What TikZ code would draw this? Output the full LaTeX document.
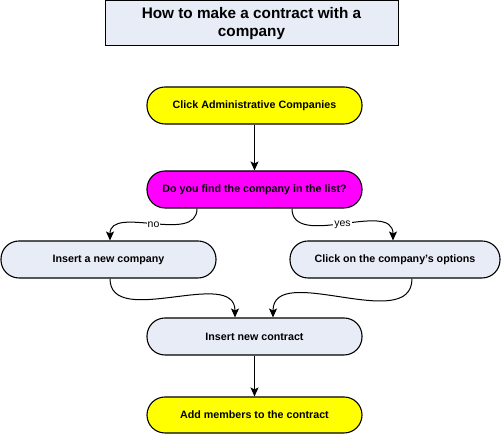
\documentclass[tikz,border=0pt]{standalone}
\usepackage{fontspec}
\setmainfont{Liberation Sans}
\usetikzlibrary{positioning}
\usetikzlibrary{arrows.meta}
\definecolor{boxfill}{HTML}{E8ECF6}
\definecolor{stepyellow}{HTML}{FFFF00}
\definecolor{stepmagenta}{HTML}{FF00FF}
\tikzset{
semithick, % All lines semithick
>={Stealth[length=9pt,width=8pt,inset=2pt]}, % All arrows with large stealth tip
my node/.style={minimum height=37pt,minimum width=215pt,inner sep=1mm,font=\fontsize{10.7}{12}\selectfont\bfseries},
my step/.style={draw,line width=1.1pt,my node,rectangle,rounded corners=18pt,fill=boxfill},
my start/.style={my step,fill=stepyellow},
my question/.style={my step,fill=stepmagenta},
my title/.style={draw,line width=1pt,rectangle,fill=boxfill,minimum width=293pt,minimum height=45pt,
  align=center,font=\fontsize{15.3}{18}\selectfont\bfseries},
my label/.style={fill=white,inner sep=1pt,font=\fontsize{10.5}{12}\selectfont},
flow/.style={->,line width=1pt}
}
\begin{document}
\begin{tikzpicture}[x=1pt,y=1pt]
\useasboundingbox (0,0) rectangle (501,435);
\node[my title] (title) at (251.5,411.5) {How to make a contract with a\\company};
\node[my start] (click) at (254.5,329.5) {Click Administrative Companies};
\node[my question] (find) at (254.5,245.5) {Do you find the company in the list?};
\node[my step] (newco) at (108.5,175.5) {Insert a new company};
\node[my step,minimum width=210pt] (opts) at (395,175.5) {Click on the company's options};
\node[my step] (contract) at (254.5,98.5) {Insert new contract};
\node[my start,minimum height=36pt] (members) at (254.5,20) {Add members to the contract};
\draw[flow] (click) -- (find);
\draw[flow] ([xshift=-57.5pt]find.south) to[out=-90,in=90] node[my label] {no} ([xshift=1.5pt]newco.north);
\draw[flow] ([xshift=37.5pt]find.south) to[out=-90,in=90] node[my label] {yes} ([xshift=-2pt]opts.north);
\draw[flow] ([xshift=1.5pt]newco.south) to[out=-90,in=90] ([xshift=-19.5pt]contract.north);
\draw[flow] ([xshift=17pt]opts.south) to[out=-90,in=90] ([xshift=18.5pt]contract.north);
\draw[flow] (contract) -- (members);
\end{tikzpicture}
\end{document}
